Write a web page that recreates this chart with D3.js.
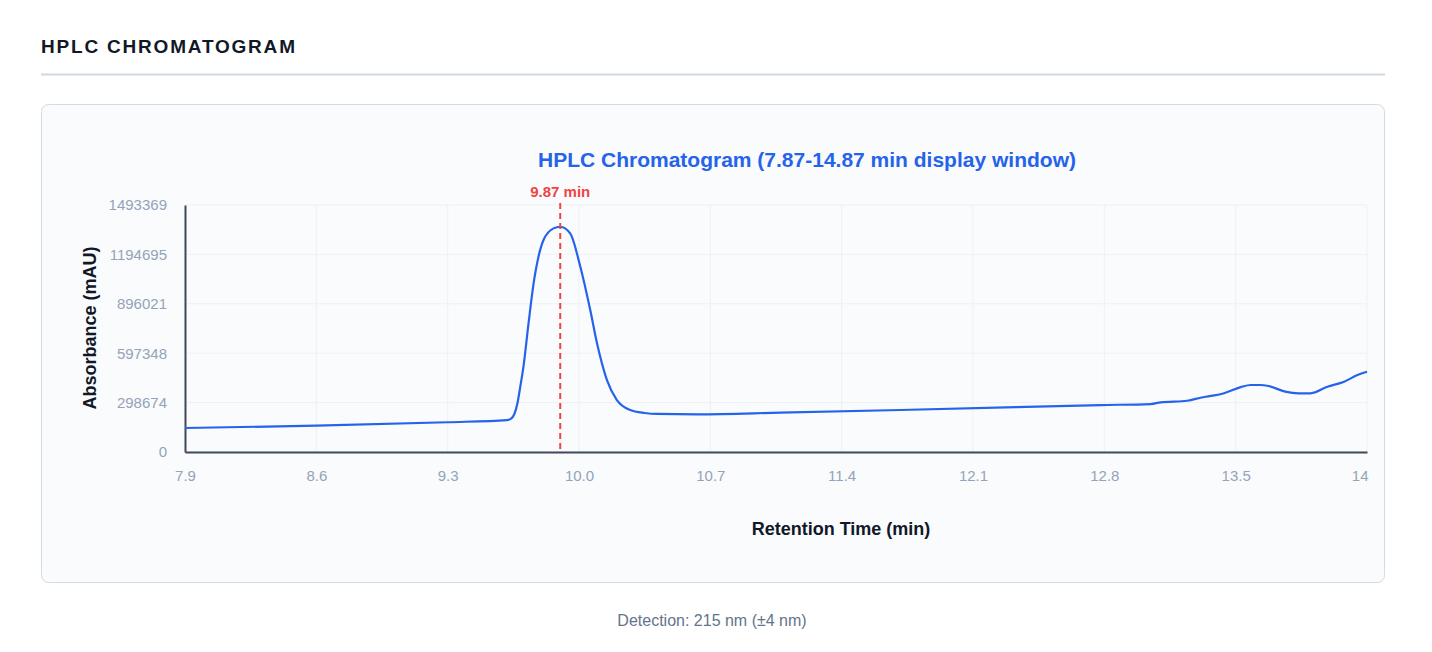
<!DOCTYPE html>
<html>
<head>
<meta charset="utf-8">
<script src="https://cdn.jsdelivr.net/npm/d3@7"></script>
<style>
  html, body { margin: 0; padding: 0; background: #ffffff; }
  svg { display: block; font-family: "Liberation Sans", Arial, Helvetica, sans-serif; }
</style>
</head>
<body>
<script>
(function (d3) {
  "use strict";

  /***** Data *****/
  var retentionTimes = [7.87, 8.57, 9.27, 9.585, 9.608, 9.625, 9.641, 9.657, 9.674, 9.701, 9.728,
    9.754, 9.781, 9.834, 9.87, 9.923, 9.977, 10.03, 10.066, 10.119, 10.172,
    10.243, 10.32, 10.386, 10.6, 11.043, 11.683, 12.3, 12.75, 13.017,
    13.07, 13.212, 13.283, 13.408, 13.497, 13.55, 13.6, 13.645, 13.734, 13.805,
    13.87, 13.959, 14.048, 14.119, 14.17];
  var absorbance = [145000, 159000, 180000, 193000, 202000, 228000, 290000, 395000, 516000, 778000, 1020000,
    1181000, 1282000, 1352000, 1362000, 1322000, 1120000, 858000, 657000, 435000, 314000,
    254000, 236000, 230000, 228000, 238000, 254000, 271000, 284000, 290000,
    300000, 310000, 328000, 355000, 392000, 405000, 405000, 399000, 365000, 355000,
    355000, 395000, 425000, 465000, 485000];

  var xTickValues = [7.87, 8.57, 9.27, 9.97, 10.67, 11.37, 12.07, 12.77, 13.47, 14.17];
  var xTickLabels = ["7.9", "8.6", "9.3", "10.0", "10.7", "11.4", "12.1", "12.8", "13.5", "14"];
  var yTickValues = [0, 298674, 597348, 896021, 1194695, 1493369];
  var peakTime = 9.87;

  /***** Layout *****/
  var width = 1432, height = 652;
  var plot = { left: 185, right: 1367, top: 205, bottom: 452 };

  var svg = d3.select("body").append("svg")
    .attr("width", width)
    .attr("height", height);

  // header
  svg.append("text")
    .attr("x", 41).attr("y", 53)
    .attr("font-size", 19).attr("font-weight", 700)
    .attr("letter-spacing", 1.8)
    .attr("fill", "#111827")
    .text("HPLC CHROMATOGRAM");

  svg.append("rect")
    .attr("x", 41).attr("y", 73.5)
    .attr("width", 1344).attr("height", 2)
    .attr("fill", "#cfd8e3");

  // card
  svg.append("rect")
    .attr("x", 41.5).attr("y", 104.5)
    .attr("width", 1343).attr("height", 478)
    .attr("rx", 7)
    .attr("fill", "#fafbfc")
    .attr("stroke", "#d3dbe6");

  /***** Scales *****/
  var xScale = d3.scaleLinear().domain([7.87, 14.17]).range([plot.left, plot.right]);
  var yScale = d3.scaleLinear().domain([0, 1493369]).range([plot.bottom, plot.top]);

  // grid
  var grid = svg.append("g");
  grid.selectAll("line.v").data(xTickValues).enter().append("line")
    .attr("x1", function (d) { return xScale(d); })
    .attr("x2", function (d) { return xScale(d); })
    .attr("y1", plot.top).attr("y2", plot.bottom)
    .attr("stroke", "#edf1f6").attr("stroke-width", 1);
  grid.selectAll("line.h").data(yTickValues).enter().append("line")
    .attr("y1", function (d) { return yScale(d); })
    .attr("y2", function (d) { return yScale(d); })
    .attr("x1", plot.left).attr("x2", plot.right)
    .attr("stroke", "#edf1f6").attr("stroke-width", 1);

  // axes
  var xAxis = d3.axisBottom(xScale)
    .tickValues(xTickValues)
    .tickSize(0).tickPadding(18)
    .tickFormat(function (d, i) { return xTickLabels[i]; });
  var gx = svg.append("g")
    .attr("transform", "translate(0," + plot.bottom + ")")
    .call(xAxis);
  gx.select(".domain").attr("stroke", "#3f4a5c").attr("stroke-width", 2);
  gx.selectAll("text")
    .attr("font-size", 15).attr("fill", "#94a3b8")
    .attr("font-family", "Liberation Sans, Arial, sans-serif");
  gx.selectAll(".tick:last-of-type text").attr("text-anchor", "end").attr("dx", 1);

  var yAxis = d3.axisLeft(yScale)
    .tickValues(yTickValues)
    .tickSize(0).tickPadding(18)
    .tickFormat(d3.format("d"));
  var gy = svg.append("g")
    .attr("transform", "translate(" + plot.left + ",0)")
    .call(yAxis);
  gy.select(".domain").attr("stroke", "#3f4a5c").attr("stroke-width", 2);
  gy.selectAll("text")
    .attr("font-size", 15).attr("fill", "#94a3b8")
    .attr("font-family", "Liberation Sans, Arial, sans-serif");

  // line
  var points = retentionTimes.map(function (t, i) { return [t, absorbance[i]]; });
  var line = d3.line()
    .x(function (d) { return xScale(d[0]); })
    .y(function (d) { return yScale(d[1]); })
    .curve(d3.curveMonotoneX);
  svg.append("path")
    .datum(points)
    .attr("d", line)
    .attr("fill", "none")
    .attr("stroke", "#2563eb")
    .attr("stroke-width", 2.2)
    .attr("stroke-linejoin", "round");

  // peak marker
  svg.append("line")
    .attr("x1", xScale(peakTime)).attr("x2", xScale(peakTime))
    .attr("y1", plot.top - 2).attr("y2", plot.bottom)
    .attr("stroke", "#ef4444").attr("stroke-width", 2)
    .attr("stroke-dasharray", "6,4");
  svg.append("text")
    .attr("x", xScale(peakTime)).attr("y", 197)
    .attr("text-anchor", "middle")
    .attr("font-size", 15).attr("font-weight", 700)
    .attr("fill", "#ef4444")
    .text(peakTime + " min");

  // titles
  svg.append("text")
    .attr("x", 807).attr("y", 167)
    .attr("text-anchor", "middle")
    .attr("font-size", 21).attr("font-weight", 700)
    .attr("fill", "#2563eb")
    .text("HPLC Chromatogram (7.87-14.87 min display window)");

  svg.append("text")
    .attr("x", 841).attr("y", 535)
    .attr("text-anchor", "middle")
    .attr("font-size", 18).attr("font-weight", 700)
    .attr("fill", "#111827")
    .text("Retention Time (min)");

  svg.append("text")
    .attr("transform", "translate(96,328) rotate(-90)")
    .attr("text-anchor", "middle")
    .attr("font-size", 18).attr("font-weight", 700)
    .attr("fill", "#111827")
    .text("Absorbance (mAU)");

  // footer
  svg.append("text")
    .attr("x", 712).attr("y", 626)
    .attr("text-anchor", "middle")
    .attr("font-size", 16)
    .attr("fill", "#64748b")
    .text("Detection: 215 nm (\u00b14 nm)");

})(d3);
</script>
</body>
</html>
